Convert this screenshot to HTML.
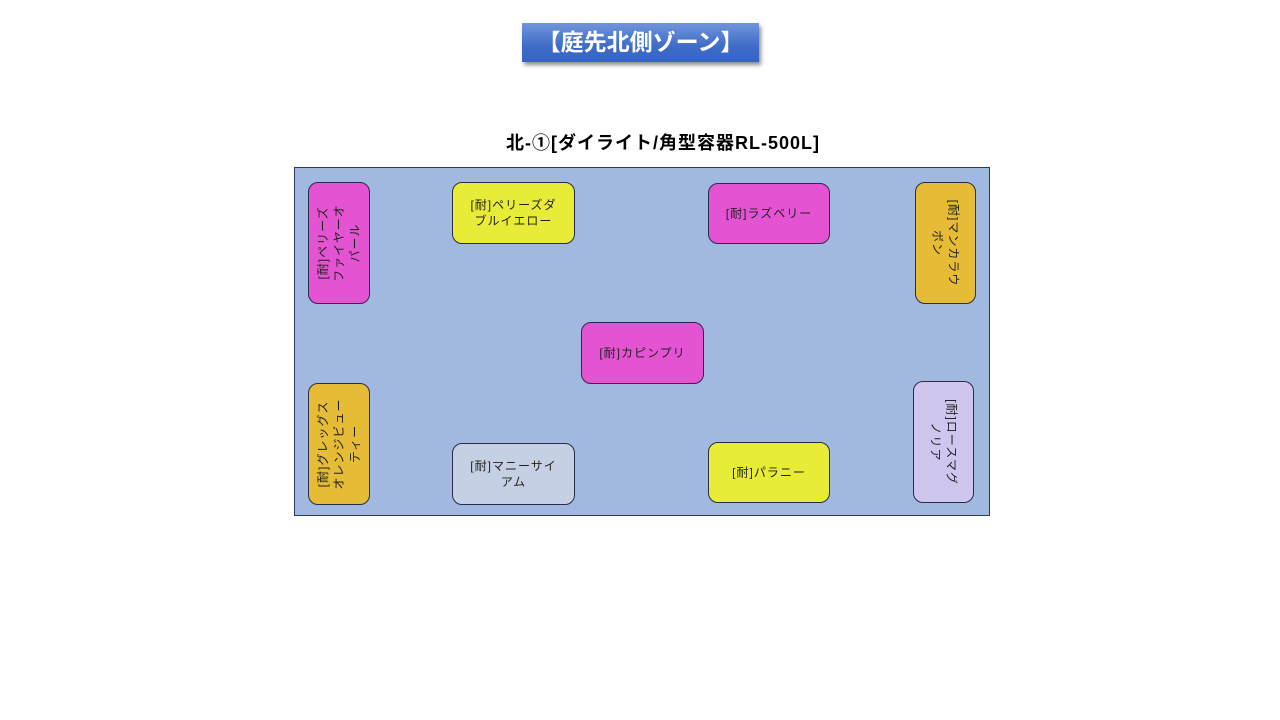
<!DOCTYPE html>
<html><head><meta charset="utf-8">
<style>
body{margin:0;width:1280px;height:720px;background:#fff;position:relative;overflow:hidden;font-family:"Liberation Sans","Noto Sans CJK JP",sans-serif;}
.title{position:absolute;left:522px;top:23px;width:237px;height:39px;background:linear-gradient(#6f95dc,#3e6cc6 60%,#3565c4);box-shadow:2px 3px 4px rgba(0,0,0,0.45);color:#fff;font-weight:bold;font-size:23px;text-align:center;line-height:38px;}
.h{position:absolute;left:420px;top:129px;width:486px;text-align:center;font-weight:bold;font-size:18px;color:#000;letter-spacing:1px;}
.frame{position:absolute;left:294px;top:167px;width:694px;height:347px;background:#a1b9e0;border:1px solid #2a3a5a;}
.b{position:absolute;border:1px solid #2a2a4a;border-radius:10px;box-sizing:border-box;font-size:12px;color:#222;letter-spacing:1px;}
.b .t{position:absolute;left:50%;top:50%;display:flex;align-items:center;justify-content:center;text-align:center;line-height:16px;}
</style></head><body>
<div class="title">【庭先北側ゾーン】</div>
<div class="h">北-①[ダイライト/角型容器RL-500L]</div>
<div class="frame"></div>

<div class="b" style="left:308px;top:182px;width:62px;height:122px;background:#e453d2">
<div class="t" style="width:122px;height:62px;transform:translate(-50%,-50%) rotate(-90deg)">[耐]ペリーズ<br>ファイヤーオ<br>パール</div></div>

<div class="b" style="left:452px;top:182px;width:123px;height:62px;background:#e8ec36">
<div class="t" style="width:123px;height:62px;transform:translate(-50%,-50%)">[耐]ペリーズダ<br>ブルイエロー</div></div>

<div class="b" style="left:708px;top:183px;width:122px;height:61px;background:#e453d2">
<div class="t" style="width:122px;height:61px;transform:translate(-50%,-50%)">[耐]ラズベリー</div></div>

<div class="b" style="left:915px;top:182px;width:61px;height:122px;background:#e6bc36">
<div class="t" style="width:122px;height:61px;transform:translate(-50%,-50%) rotate(90deg)">[耐]マンカラウ<br>ボン</div></div>

<div class="b" style="left:581px;top:322px;width:123px;height:62px;background:#e453d2">
<div class="t" style="width:123px;height:62px;transform:translate(-50%,-50%)">[耐]カピンプリ</div></div>

<div class="b" style="left:308px;top:383px;width:62px;height:122px;background:#e6bc36">
<div class="t" style="width:122px;height:62px;transform:translate(-50%,-50%) rotate(-90deg)">[耐]グレッグス<br>オレンジビュー<br>ティー</div></div>

<div class="b" style="left:452px;top:443px;width:123px;height:62px;background:#c5d0e4">
<div class="t" style="width:123px;height:62px;transform:translate(-50%,-50%)">[耐]マニーサイ<br>アム</div></div>

<div class="b" style="left:708px;top:442px;width:122px;height:61px;background:#e8ec36">
<div class="t" style="width:122px;height:61px;transform:translate(-50%,-50%)">[耐]パラニー</div></div>

<div class="b" style="left:913px;top:381px;width:61px;height:122px;background:#d0c5ef">
<div class="t" style="width:122px;height:61px;transform:translate(-50%,-50%) rotate(90deg)">[耐]ロースマグ<br>ノリア</div></div>
</body></html>
